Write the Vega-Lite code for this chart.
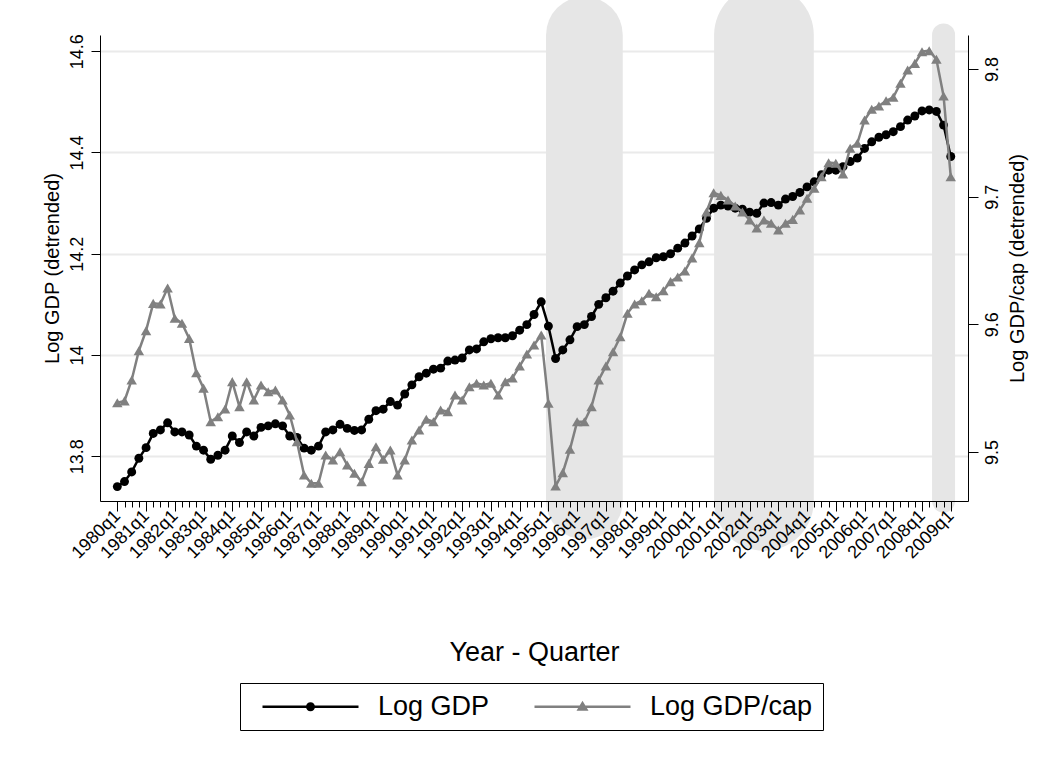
{
  "$schema": "https://vega.github.io/schema/vega-lite/v6.json",
  "width": 868,
  "height": 466,
  "autosize": {"type": "none"},
  "padding": {"left": 100, "top": 35, "right": 83, "bottom": 263},
  "background": "white",
  "config": {
    "font": "Liberation Sans",
    "view": {"stroke": null},
    "axis": {"labelColor": "#000", "titleColor": "#000", "titleFontWeight": "normal", "domainColor": "#000", "tickColor": "#000", "labelFont": "Liberation Sans", "titleFont": "Liberation Sans"}
  },
  "datasets": {
    "series": [
      {"t":0,"gdp":13.740,"cap":9.5386},{"t":1,"gdp":13.750,"cap":9.540},{"t":2,"gdp":13.769,"cap":9.5564},{"t":3,"gdp":13.796,"cap":9.5793},
      {"t":4,"gdp":13.817,"cap":9.595},{"t":5,"gdp":13.845,"cap":9.6164},{"t":6,"gdp":13.852,"cap":9.6159},{"t":7,"gdp":13.866,"cap":9.6284},
      {"t":8,"gdp":13.848,"cap":9.6047},{"t":9,"gdp":13.848,"cap":9.6008},{"t":10,"gdp":13.842,"cap":9.589},{"t":11,"gdp":13.820,"cap":9.562},
      {"t":12,"gdp":13.812,"cap":9.550},{"t":13,"gdp":13.794,"cap":9.5237},{"t":14,"gdp":13.802,"cap":9.5276},{"t":15,"gdp":13.812,"cap":9.5337},
      {"t":16,"gdp":13.840,"cap":9.555},{"t":17,"gdp":13.827,"cap":9.5355},{"t":18,"gdp":13.848,"cap":9.555},{"t":19,"gdp":13.840,"cap":9.5407},
      {"t":20,"gdp":13.857,"cap":9.5525},{"t":21,"gdp":13.860,"cap":9.5472},{"t":22,"gdp":13.864,"cap":9.5485},{"t":23,"gdp":13.860,"cap":9.5407},
      {"t":24,"gdp":13.840,"cap":9.529},{"t":25,"gdp":13.837,"cap":9.508},{"t":26,"gdp":13.816,"cap":9.482},{"t":27,"gdp":13.812,"cap":9.4755},
      {"t":28,"gdp":13.820,"cap":9.4755},{"t":29,"gdp":13.848,"cap":9.4976},{"t":30,"gdp":13.852,"cap":9.4937},{"t":31,"gdp":13.863,"cap":9.5002},
      {"t":32,"gdp":13.855,"cap":9.4898},{"t":33,"gdp":13.851,"cap":9.4833},{"t":34,"gdp":13.852,"cap":9.4767},{"t":35,"gdp":13.873,"cap":9.4911},
      {"t":36,"gdp":13.890,"cap":9.5041},{"t":37,"gdp":13.893,"cap":9.4943},{"t":38,"gdp":13.908,"cap":9.5015},{"t":39,"gdp":13.901,"cap":9.482},
      {"t":40,"gdp":13.923,"cap":9.4937},{"t":41,"gdp":13.941,"cap":9.5094},{"t":42,"gdp":13.957,"cap":9.5172},{"t":43,"gdp":13.964,"cap":9.5256},
      {"t":44,"gdp":13.972,"cap":9.5237},{"t":45,"gdp":13.974,"cap":9.5329},{"t":46,"gdp":13.988,"cap":9.5315},{"t":47,"gdp":13.990,"cap":9.5446},
      {"t":48,"gdp":13.994,"cap":9.5407},{"t":49,"gdp":14.010,"cap":9.5511},{"t":50,"gdp":14.012,"cap":9.5538},{"t":51,"gdp":14.026,"cap":9.5525},
      {"t":52,"gdp":14.032,"cap":9.5538},{"t":53,"gdp":14.034,"cap":9.5446},{"t":54,"gdp":14.034,"cap":9.555},{"t":55,"gdp":14.038,"cap":9.558},
      {"t":56,"gdp":14.049,"cap":9.5673},{"t":57,"gdp":14.060,"cap":9.5767},{"t":58,"gdp":14.080,"cap":9.5838},{"t":59,"gdp":14.105,"cap":9.5916},
      {"t":60,"gdp":14.057,"cap":9.5381},{"t":61,"gdp":13.993,"cap":9.4733},{"t":62,"gdp":14.010,"cap":9.4838},{"t":63,"gdp":14.030,"cap":9.5021},
      {"t":64,"gdp":14.056,"cap":9.5237},{"t":65,"gdp":14.060,"cap":9.5237},{"t":66,"gdp":14.076,"cap":9.5355},{"t":67,"gdp":14.100,"cap":9.5564},
      {"t":68,"gdp":14.113,"cap":9.5673},{"t":69,"gdp":14.126,"cap":9.5785},{"t":70,"gdp":14.142,"cap":9.5903},{"t":71,"gdp":14.156,"cap":9.6086},
      {"t":72,"gdp":14.168,"cap":9.6159},{"t":73,"gdp":14.178,"cap":9.6185},{"t":74,"gdp":14.184,"cap":9.6243},{"t":75,"gdp":14.192,"cap":9.6216},
      {"t":76,"gdp":14.194,"cap":9.6263},{"t":77,"gdp":14.200,"cap":9.6334},{"t":78,"gdp":14.211,"cap":9.637},{"t":79,"gdp":14.221,"cap":9.6417},
      {"t":80,"gdp":14.235,"cap":9.652},{"t":81,"gdp":14.249,"cap":9.664},{"t":82,"gdp":14.270,"cap":9.688},{"t":83,"gdp":14.290,"cap":9.703},
      {"t":84,"gdp":14.296,"cap":9.701},{"t":85,"gdp":14.294,"cap":9.6974},{"t":86,"gdp":14.290,"cap":9.6927},{"t":87,"gdp":14.288,"cap":9.688},
      {"t":88,"gdp":14.282,"cap":9.6817},{"t":89,"gdp":14.280,"cap":9.6754},{"t":90,"gdp":14.300,"cap":9.6817},{"t":91,"gdp":14.301,"cap":9.6791},
      {"t":92,"gdp":14.296,"cap":9.6739},{"t":93,"gdp":14.308,"cap":9.6791},{"t":94,"gdp":14.313,"cap":9.6822},{"t":95,"gdp":14.321,"cap":9.6895},
      {"t":96,"gdp":14.332,"cap":9.6987},{"t":97,"gdp":14.342,"cap":9.7065},{"t":98,"gdp":14.356,"cap":9.7156},{"t":99,"gdp":14.365,"cap":9.7266},
      {"t":100,"gdp":14.365,"cap":9.7261},{"t":101,"gdp":14.372,"cap":9.7177},{"t":102,"gdp":14.382,"cap":9.7379},{"t":103,"gdp":14.389,"cap":9.7418},
      {"t":104,"gdp":14.408,"cap":9.76},{"t":105,"gdp":14.421,"cap":9.7684},{"t":106,"gdp":14.430,"cap":9.771},{"t":107,"gdp":14.435,"cap":9.7751},
      {"t":108,"gdp":14.441,"cap":9.7778},{"t":109,"gdp":14.451,"cap":9.7888},{"t":110,"gdp":14.464,"cap":9.7992},{"t":111,"gdp":14.472,"cap":9.8044},
      {"t":112,"gdp":14.482,"cap":9.8135},{"t":113,"gdp":14.484,"cap":9.8143},{"t":114,"gdp":14.481,"cap":9.8076},{"t":115,"gdp":14.454,"cap":9.7788},
      {"t":116,"gdp":14.392,"cap":9.7156}
    ],
    "bands": [
      {"start": 59.67, "end": 70.35},
      {"start": 83.06, "end": 96.94},
      {"start": 113.4, "end": 116.6}
    ]
  },
  "layer": [
    {
      "layer": [
        {
          "data": {"name": "bands"},
          "transform": [
            {"calculate": "(datum.start + datum.end) / 2", "as": "mid"},
            {"calculate": "datum.end - datum.start", "as": "span"}
          ],
          "mark": {"type": "rule", "strokeCap": "round", "color": "#e6e6e6", "opacity": 1},
          "encoding": {
            "x": {"field": "mid", "type": "quantitative", "scale": {"domain": [-2.41, 118.4], "nice": false, "zero": false},
              "axis": {"orient": "bottom", "values": [0,4,8,12,16,20,24,28,32,36,40,44,48,52,56,60,64,68,72,76,80,84,88,92,96,100,104,108,112,116],
                "labelExpr": "(floor(datum.value/4)+1980)+'q'+(datum.value%4+1)", "labelAngle": 315, "labelAlign": "right", "labelBaseline": "middle",
                "labelFontSize": 18, "labelPadding": 2, "tickSize": 10, "labelOverlap": false, "grid": false, "zindex": 1,
                "title": "Year - Quarter", "titleFontSize": 27, "titleY": 151, "titleBaseline": "middle"}},
            "y": {"datum": 14.632, "type": "quantitative"},
            "y2": {"datum": 13.7116},
            "strokeWidth": {"field": "span", "type": "quantitative", "scale": {"domain": [0, 10], "range": [0, 71.84], "zero": true}, "legend": null}
          }
        },
        {
          "data": {"name": "series"},
          "mark": {"type": "line", "strokeWidth": 2.5},
          "encoding": {
            "x": {"field": "t", "type": "quantitative", "scale": {"domain": [-2.41, 118.4], "nice": false, "zero": false},
              "axis": {"orient": "bottom", "values": [0,4,8,12,16,20,24,28,32,36,40,44,48,52,56,60,64,68,72,76,80,84,88,92,96,100,104,108,112,116],
                "labelExpr": "(floor(datum.value/4)+1980)+'q'+(datum.value%4+1)", "labelAngle": 315, "labelAlign": "right", "labelBaseline": "middle",
                "labelFontSize": 18, "labelPadding": 2, "tickSize": 10, "labelOverlap": false, "grid": false, "zindex": 1,
                "title": "Year - Quarter", "titleFontSize": 27, "titleY": 151, "titleBaseline": "middle"}},
            "y": {"field": "gdp", "type": "quantitative", "scale": {"domain": [13.7116, 14.632], "nice": false, "zero": false},
              "axis": {"orient": "left", "values": [13.8, 14, 14.2, 14.4, 14.6], "format": ".1~f", "labelAngle": 270, "labelAlign": "center", "labelBaseline": "bottom",
                "labelFontSize": 18, "labelPadding": 5, "tickSize": 9, "grid": true, "gridColor": "#eaeaea", "gridWidth": 2, "zindex": 0,
                "title": "Log GDP (detrended)", "titleFontSize": 20, "titlePadding": 6}},
            "color": {"datum": "Log GDP", "type": "nominal",
              "scale": {"domain": ["Log GDP", "Log GDP/cap"], "range": ["#000000", "#808080"]},
              "legend": {"orient": "none", "legendX": 140, "legendY": 648, "direction": "horizontal", "title": null,
                "strokeColor": "#000", "padding": 10, "labelFontSize": 27, "labelColor": "#000", "labelLimit": 400, "labelOffset": 101, "columnPadding": 32, "symbolSize": 100,
                "encode": {"symbols": {"update": {
                  "shape": {"signal": "datum.value === 'Log GDP' ? 'M-0.2,-0.26H19V0.26H-0.2Z M10.3,0A0.9,0.9 0 1,1 8.5,0A0.9,0.9 0 1,1 10.3,0Z' : 'M-0.2,-0.26H19V0.26H-0.2Z M9.4,-1.2L10.6,0.8L8.2,0.8Z'"},
                  "fill": {"signal": "datum.value === 'Log GDP' ? '#000000' : '#808080'"},
                  "stroke": {"value": "transparent"}, "strokeWidth": {"value": 0}, "size": {"value": 100}, "opacity": {"value": 1}, "fillOpacity": {"value": 1}}}}}}
          }
        },
        {
          "data": {"name": "series"},
          "mark": {"type": "point", "shape": "circle", "filled": true, "size": 80, "color": "#000000", "opacity": 1},
          "encoding": {
            "x": {"field": "t", "type": "quantitative", "scale": {"domain": [-2.41, 118.4], "nice": false, "zero": false},
              "axis": {"orient": "bottom", "values": [0,4,8,12,16,20,24,28,32,36,40,44,48,52,56,60,64,68,72,76,80,84,88,92,96,100,104,108,112,116],
                "labelExpr": "(floor(datum.value/4)+1980)+'q'+(datum.value%4+1)", "labelAngle": 315, "labelAlign": "right", "labelBaseline": "middle",
                "labelFontSize": 18, "labelPadding": 2, "tickSize": 10, "labelOverlap": false, "grid": false, "zindex": 1,
                "title": "Year - Quarter", "titleFontSize": 27, "titleY": 151, "titleBaseline": "middle"}},
            "y": {"field": "gdp", "type": "quantitative"}
          }
        }
      ]
    },
    {
      "layer": [
        {
          "data": {"name": "series"},
          "mark": {"type": "line", "strokeWidth": 2.5},
          "encoding": {
            "x": {"field": "t", "type": "quantitative", "scale": {"domain": [-2.41, 118.4], "nice": false, "zero": false},
              "axis": {"orient": "bottom", "values": [0,1,2,3,4,5,6,7,8,9,10,11,12,13,14,15,16,17,18,19,20,21,22,23,24,25,26,27,28,29,30,31,32,33,34,35,36,37,38,39,40,41,42,43,44,45,46,47,48,49,50,51,52,53,54,55,56,57,58,59,60,61,62,63,64,65,66,67,68,69,70,71,72,73,74,75,76,77,78,79,80,81,82,83,84,85,86,87,88,89,90,91,92,93,94,95,96,97,98,99,100,101,102,103,104,105,106,107,108,109,110,111,112,113,114,115,116],
                "labels": false, "tickSize": 6, "domain": false, "grid": false, "title": null, "zindex": 1}},
            "y": {"field": "cap", "type": "quantitative", "scale": {"domain": [9.4616, 9.8266], "nice": false, "zero": false},
              "axis": {"orient": "right", "values": [9.5, 9.6, 9.7, 9.8], "format": ".1f", "labelAngle": 270, "labelAlign": "center", "labelBaseline": "top",
                "labelFontSize": 18, "labelPadding": 5, "tickSize": 10, "grid": false,
                "title": "Log GDP/cap (detrended)", "titleFontSize": 20, "titleAngle": 270, "titleBaseline": "top", "titlePadding": 6}},
            "color": {"datum": "Log GDP/cap", "type": "nominal",
              "scale": {"domain": ["Log GDP", "Log GDP/cap"], "range": ["#000000", "#808080"]},
              "legend": {"orient": "none", "legendX": 140, "legendY": 648, "direction": "horizontal", "title": null,
                "strokeColor": "#000", "padding": 10, "labelFontSize": 27, "labelColor": "#000", "labelLimit": 400, "labelOffset": 101, "columnPadding": 32, "symbolSize": 100,
                "encode": {"symbols": {"update": {
                  "shape": {"signal": "datum.value === 'Log GDP' ? 'M-0.2,-0.26H19V0.26H-0.2Z M10.3,0A0.9,0.9 0 1,1 8.5,0A0.9,0.9 0 1,1 10.3,0Z' : 'M-0.2,-0.26H19V0.26H-0.2Z M9.4,-1.2L10.6,0.8L8.2,0.8Z'"},
                  "fill": {"signal": "datum.value === 'Log GDP' ? '#000000' : '#808080'"},
                  "stroke": {"value": "transparent"}, "strokeWidth": {"value": 0}, "size": {"value": 100}, "opacity": {"value": 1}, "fillOpacity": {"value": 1}}}}}}
          }
        },
        {
          "data": {"name": "series"},
          "mark": {"type": "point", "shape": "triangle-up", "filled": true, "size": 110, "color": "#808080", "opacity": 1},
          "encoding": {
            "x": {"field": "t", "type": "quantitative", "scale": {"domain": [-2.41, 118.4], "nice": false, "zero": false},
              "axis": {"orient": "bottom", "values": [0,1,2,3,4,5,6,7,8,9,10,11,12,13,14,15,16,17,18,19,20,21,22,23,24,25,26,27,28,29,30,31,32,33,34,35,36,37,38,39,40,41,42,43,44,45,46,47,48,49,50,51,52,53,54,55,56,57,58,59,60,61,62,63,64,65,66,67,68,69,70,71,72,73,74,75,76,77,78,79,80,81,82,83,84,85,86,87,88,89,90,91,92,93,94,95,96,97,98,99,100,101,102,103,104,105,106,107,108,109,110,111,112,113,114,115,116],
                "labels": false, "tickSize": 6, "domain": false, "grid": false, "title": null, "zindex": 1}},
            "y": {"field": "cap", "type": "quantitative"}
          }
        }
      ]
    }
  ],
  "resolve": {"scale": {"y": "independent"}, "axis": {"x": "independent"}}
}
